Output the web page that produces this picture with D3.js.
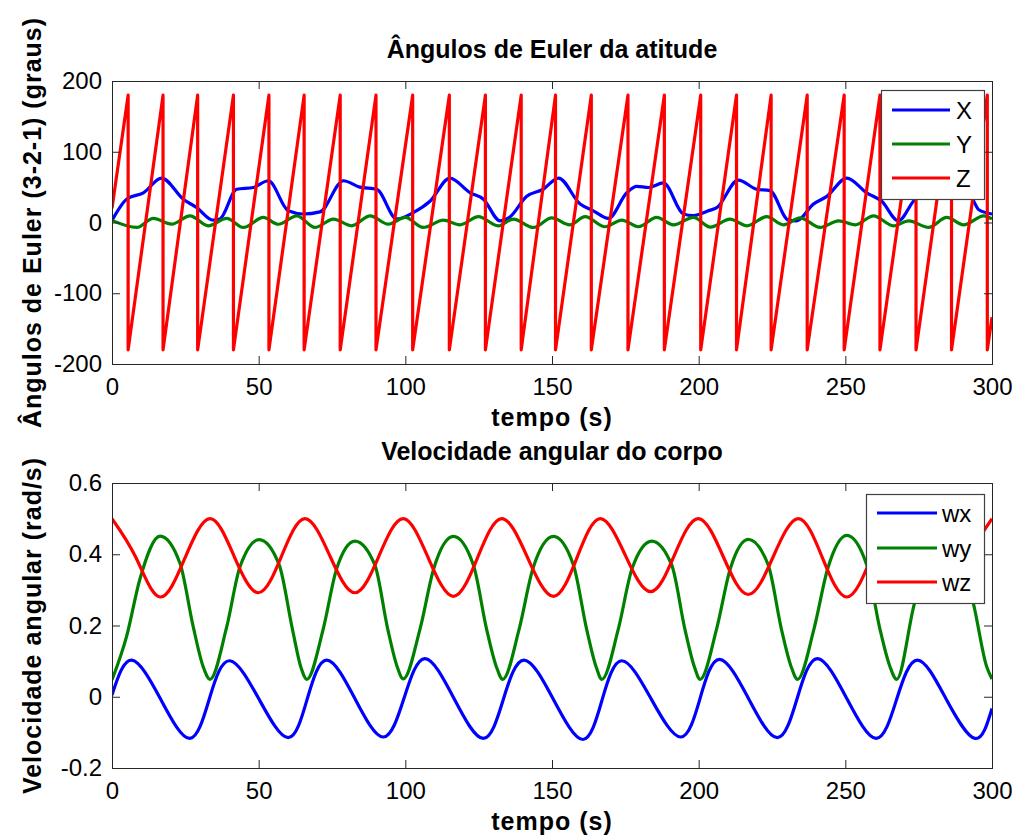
<!DOCTYPE html>
<html>
<head>
<meta charset="utf-8">
<script src="https://cdn.jsdelivr.net/npm/d3@7"></script>
<style>
  body { margin: 0; background: #fff; }
  svg { display: block; font-family: "Liberation Sans", Arial, Helvetica, sans-serif; }
</style>
</head>
<body>
<div id="chart"></div>
<script>
// tick values
const timeTicks  = [0, 50, 100, 150, 200, 250, 300];
const eulerTicks = [-200, -100, 0, 100, 200];
const rateTicks  = [-0.2, 0, 0.2, 0.4, 0.6];

// Euler angles (deg) : [tempo, valor]
const eulerX = [[0,3],[5,33],[10.7,42],[16.9,62.8],[24.3,33],[28.9,21],[34.5,3.3],[36.8,5],
  [42.5,47],[48.2,49.5],[53.3,59],[60.1,16.5],[65.2,12],[70.9,15],[78.9,59],[84.5,50],
  [90.2,47],[97.1,5],[102.7,14],[108.4,30],[115.2,62.8],[122.1,42],[126.6,33],[132.3,2.4],
  [135.4,7],[141.4,37],[147,47],[152.2,62.8],[159.6,26],[164.1,16.5],[169.2,5.7],[175.5,42],
  [178.9,51],[182.9,49.5],[188,56],[194.8,12],[198.2,9.7],[200.5,12],[203.3,16.5],[206.2,21],
  [213.5,60],[219.8,47],[224.3,45],[230.6,3.3],[233.4,2.4],[239.1,26],[243.7,37],[250.5,62.8],
  [257.3,42],[262.4,30],[268.1,2.4],[273.2,30],[278,50],[283,60],[288,52],[293.5,32],
  [295.5,18],[300,12]];

const eulerY = [[0,3],[8.4,-7],[14.1,5.8],[20.3,-2.3],[26.6,9.5],[32.8,-4.7],[39.1,5.8],
  [44.8,-7],[51.6,7.2],[56.7,-2.5],[63,9.5],[69.2,-7],[75.5,4.8],[81.7,-4.7],[88,9.5],
  [94.2,-2.3],[100,7.2],[106.1,-7],[113,3.3],[118.6,-3.3],[124.9,8.2],[131.7,-4.7],
  [136.8,4.8],[143.7,-7],[149.9,6.6],[156.1,-3.3],[161.3,8.2],[168.1,-6],[173.8,3.3],
  [179.5,-6],[185.7,7.2],[191.4,-3.3],[198.2,7.2],[204,-6.5],[210.7,4.8],[216.4,-4.7],
  [223.2,8.2],[228.9,-3.3],[234.6,6.6],[241.4,-7],[247.7,2.4],[253.4,-3.3],[259.6,9.5],
  [266.4,-4.7],[271.6,2.4],[278.4,-7],[284.6,7.2],[290.3,-3.3],[297.2,9.5],[300,5]];

const eulerZ = [[0,20],[5.5,180],[5.5,-180],[17.4,180],[17.4,-180],[29.2,180],[29.2,-180],
  [41.4,180],[41.4,-180],[53.5,180],[53.5,-180],[65.5,180],[65.5,-180],[77.8,180],[77.8,-180],
  [90,180],[90,-180],[102.5,180],[102.5,-180],[115,180],[115,-180],[127.3,180],[127.3,-180],
  [139.5,180],[139.5,-180],[151.2,180],[151.2,-180],[163.4,180],[163.4,-180],[175.9,180],
  [175.9,-180],[188.3,180],[188.3,-180],[200.7,180],[200.7,-180],[212.9,180],[212.9,-180],
  [224.7,180],[224.7,-180],[237,180],[237,-180],[249.6,180],[249.6,-180],[261.8,180],
  [261.8,-180],[274.1,180],[274.1,-180],[286.2,180],[286.2,-180],[298.4,180],[298.4,-180],
  [300,-134]];

// angular velocity (rad/s) : [tempo, valor]
const wx = [[0,0.005],[6.7,0.103],[16.6,-0.007],[26.6,-0.117],[33.4,0],[40.2,0.101],
  [50.2,-0.008],[60.1,-0.115],[66.6,-0.005],[73.2,0.103],[82.8,-0.005],[92.5,-0.113],
  [99.6,-0.003],[106.7,0.107],[116.6,-0.005],[126.6,-0.117],[133.5,-0.005],[140.5,0.103],
  [150.5,-0.008],[160.5,-0.12],[167.1,-0.008],[173.8,0.101],[183.8,-0.006],[193.9,-0.113],
  [200.5,-0.004],[207.1,0.105],[217,-0.005],[226.8,-0.115],[233.6,-0.004],[240.5,0.107],
  [250.5,-0.005],[260.5,-0.117],[267.5,-0.007],[274.6,0.103],[284.4,-0.007],[294.2,-0.117],
  [300,-0.033]];

const wy = [[0,0.047],[5,0.17],[9.5,0.33],[16.4,0.451],[23.2,0.374],[27.7,0.196],[31.1,0.084],
  [33.4,0.049],[39.1,0.196],[43.6,0.364],[50.2,0.441],[57,0.37],[61.5,0.19],[64.5,0.08],
  [66.4,0.049],[72,0.19],[76.6,0.36],[82.8,0.437],[89.6,0.37],[94,0.19],[97.2,0.085],
  [99.3,0.05],[105,0.19],[109.7,0.36],[116.4,0.45],[123.2,0.37],[127.7,0.19],[131,0.085],
  [133.2,0.049],[138.8,0.19],[143.5,0.36],[150.5,0.45],[157.3,0.37],[161.8,0.19],[165,0.085],
  [167,0.049],[172.6,0.19],[177.3,0.36],[184,0.437],[190.8,0.37],[195.3,0.19],[198.5,0.085],
  [200.5,0.049],[206.1,0.19],[210.8,0.36],[216.9,0.442],[223.7,0.37],[228.2,0.19],[231.5,0.085],
  [233.7,0.049],[239.3,0.19],[244,0.36],[250.5,0.453],[257.3,0.37],[261.8,0.19],[265.2,0.085],
  [267.5,0.049],[273.5,0.26],[278,0.38],[284,0.44],[290,0.37],[293.7,0.26],[298.2,0.084],
  [300,0.05]];

const wz = [[0,0.5],[8.2,0.39],[16.4,0.28],[24.9,0.39],[33.4,0.5],[41.6,0.395],[49.9,0.292],
  [57.8,0.395],[65.8,0.5],[74.3,0.395],[82.8,0.292],[91,0.395],[99.3,0.5],[107.8,0.39],
  [116.4,0.282],[124.6,0.39],[132.9,0.5],[141.7,0.39],[150.5,0.282],[158.5,0.39],[166.4,0.5],
  [175,0.397],[183.6,0.295],[191.7,0.397],[199.9,0.5],[208.4,0.393],[216.9,0.287],[225.4,0.393],
  [234,0.5],[242.2,0.39],[250.5,0.28],[258.8,0.39],[267,0.5],[275.4,0.39],[283.7,0.285],
  [291.8,0.39],[300,0.5]];

const W = 1018, H = 836;
const svg = d3.select('#chart').append('svg')
    .attr('width', W).attr('height', H);
svg.append('rect').attr('width', W).attr('height', H).attr('fill', '#fff');

function panel(opt) {
  const x = d3.scaleLinear().domain([0, 300]).range([opt.left, opt.right]);
  const y = d3.scaleLinear().domain(opt.yDomain).range([opt.bottom, opt.top]);
  const fmt = d => String(d);
  const g = svg.append('g');

  const clipId = 'clip' + opt.id;
  svg.append('clipPath').attr('id', clipId)
    .append('rect')
      .attr('x', opt.left).attr('y', opt.top - 3)
      .attr('width', opt.right - opt.left).attr('height', opt.bottom - opt.top + 6);

  const line = d3.line()
    .x(d => x(d[0]))
    .y(d => y(d[1]));

  opt.series.forEach(s => {
    g.append('path')
      .datum(s.data)
      .attr('clip-path', 'url(#' + clipId + ')')
      .attr('fill', 'none')
      .attr('stroke', s.color)
      .attr('stroke-width', 3.2)
      .attr('stroke-linejoin', 'round')
      .attr('d', line.curve(s.curve)(s.data));
  });

  // axes, ticks inward on all four sides
  const styleAxis = a => {
    a.select('.domain').remove();
    a.selectAll('.tick line').attr('stroke', '#262626');
    a.selectAll('.tick text').attr('fill', '#000').style('font-size', '24px');
  };
  g.append('g').attr('transform', 'translate(0,' + opt.bottom + ')')
    .call(d3.axisBottom(x).tickValues(timeTicks).tickFormat(fmt).tickSizeInner(-8).tickSizeOuter(0).tickPadding(14))
    .call(styleAxis);
  g.append('g').attr('transform', 'translate(0,' + opt.top + ')')
    .call(d3.axisTop(x).tickValues(timeTicks).tickFormat('').tickSizeInner(-8).tickSizeOuter(0))
    .call(styleAxis);
  g.append('g').attr('transform', 'translate(' + opt.left + ',0)')
    .call(d3.axisLeft(y).tickValues(opt.yTicks).tickFormat(fmt).tickSizeInner(-8).tickSizeOuter(0).tickPadding(10))
    .call(styleAxis);
  g.append('g').attr('transform', 'translate(' + opt.right + ',0)')
    .call(d3.axisRight(y).tickValues(opt.yTicks).tickFormat('').tickSizeInner(-8).tickSizeOuter(0))
    .call(styleAxis);
  g.selectAll('.tick text').attr('font-family', null);

  g.append('rect')
    .attr('x', opt.left + 0.5).attr('y', opt.top + 0.5)
    .attr('width', opt.right - opt.left).attr('height', opt.bottom - opt.top)
    .attr('fill', 'none').attr('stroke', '#262626').attr('stroke-width', 1);

  // title and labels
  const cx = (opt.left + opt.right) / 2;
  g.append('text').attr('x', cx).attr('y', opt.top - 23)
    .attr('text-anchor', 'middle').style('font-size', '25px').style('font-weight', 'bold')
    .text(opt.title);
  g.append('text').attr('x', cx).attr('y', opt.bottom + 62)
    .attr('text-anchor', 'middle').style('font-size', '25px').style('font-weight', 'bold')
    .style('letter-spacing', '1px')
    .text('tempo (s)');
  g.append('text')
    .attr('transform', 'translate(41,' + ((opt.top + opt.bottom) / 2) + ') rotate(-90)')
    .attr('text-anchor', 'middle').style('font-size', '25px').style('font-weight', 'bold')
    .style('letter-spacing', '1px')
    .text(opt.ylabel);

  // legend
  const L = opt.legend;
  const lg = g.append('g');
  lg.append('rect')
    .attr('x', L.x + 0.5).attr('y', L.y + 0.5).attr('width', L.w).attr('height', L.h)
    .attr('fill', '#fff').attr('stroke', '#404040').attr('stroke-width', 1.2);
  opt.series.forEach((s, i) => {
    const ry = L.y + L.rows[i];
    lg.append('line')
      .attr('x1', L.x + L.lx1).attr('x2', L.x + L.lx2)
      .attr('y1', ry).attr('y2', ry)
      .attr('stroke', s.color).attr('stroke-width', 3.2);
    lg.append('text')
      .attr('x', L.x + L.tx).attr('y', ry).attr('dy', '0.36em')
      .style('font-size', '24px')
      .text(s.name);
  });
}

panel({
  id: 'top', left: 112, right: 992, top: 81, bottom: 364,
  yDomain: [-200, 200], yTicks: eulerTicks,
  title: 'Ângulos de Euler da atitude',
  ylabel: 'Ângulos de Euler (3-2-1) (graus)',
  series: [
    { name: 'X', data: eulerX, color: '#0000ff', curve: d3.curveMonotoneX },
    { name: 'Y', data: eulerY, color: '#008000', curve: d3.curveMonotoneX },
    { name: 'Z', data: eulerZ, color: '#ff0000', curve: d3.curveLinear }
  ],
  legend: { x: 881, y: 90, w: 103, h: 109, rows: [20, 54, 88], lx1: 11, lx2: 69, tx: 75 }
});

panel({
  id: 'bot', left: 112, right: 992, top: 483, bottom: 768,
  yDomain: [-0.2, 0.6], yTicks: rateTicks,
  title: 'Velocidade angular do corpo',
  ylabel: 'Velocidade angular (rad/s)',
  series: [
    { name: 'wx', data: wx, color: '#0000ff', curve: d3.curveNatural },
    { name: 'wy', data: wy, color: '#008000', curve: d3.curveMonotoneX },
    { name: 'wz', data: wz, color: '#ff0000', curve: d3.curveNatural }
  ],
  legend: { x: 866, y: 494, w: 118, h: 109, rows: [19, 54, 88], lx1: 11, lx2: 71, tx: 76 }
});
</script>
</body>
</html>
